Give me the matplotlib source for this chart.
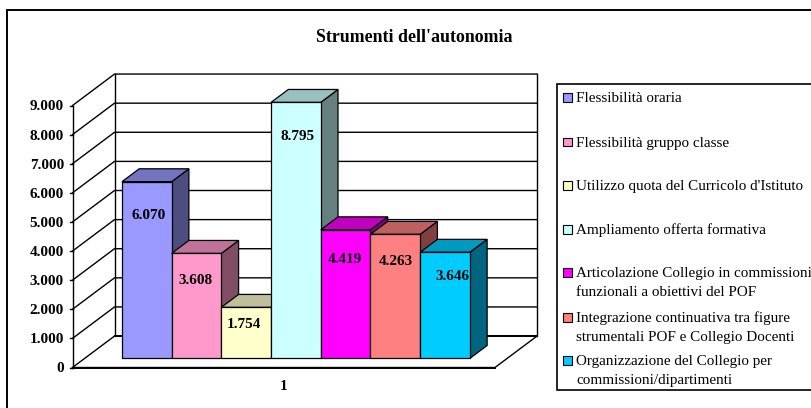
import matplotlib
matplotlib.use("Agg")
import matplotlib.pyplot as plt
from matplotlib.patches import Polygon, Rectangle

plt.rcParams['font.family'] = ['Liberation Serif', 'DejaVu Sans']

W, H = 811, 408

# dati
title = "Strumenti dell'autonomia"
category = "1"
series_names = ["Flessibilità oraria",
                "Flessibilità gruppo classe",
                "Utilizzo quota del Curricolo d'Istituto",
                "Ampliamento offerta formativa",
                "Articolazione Collegio in commissioni\nfunzionali a obiettivi del POF",
                "Integrazione continuativa tra figure\nstrumentali POF e Collegio Docenti",
                "Organizzazione del Collegio per\ncommissioni/dipartimenti"]
values = [6070, 3608, 1754, 8795, 4419, 4263, 3646]
value_labels = ["6.070", "3.608", "1.754", "8.795", "4.419", "4.263", "3.646"]
yticks = [0, 1000, 2000, 3000, 4000, 5000, 6000, 7000, 8000, 9000]
ytick_labels = ["0", "1.000", "2.000", "3.000", "4.000", "5.000", "6.000", "7.000", "8.000", "9.000"]

front_colors = ["#9999FF", "#FF99CC", "#FFFFCC", "#CCFFFF", "#FF00FF", "#FF8080", "#00CCFF"]
top_colors = ["#7373BF", "#BF7399", "#BFBF99", "#99BFBF", "#BF00BF", "#BF6060", "#0099BF"]
side_colors = ["#4D4D80", "#804D66", "#808066", "#668080", "#800080", "#804040", "#006680"]

# spostamento delle etichette rispetto al centro alto della barra, in pixel
label_dx = [2, -1, -2, 2, -1, 0, 7]
label_dy = [-34, -27, -17, -34, -30, -27, -24]

# offset obliquo della profondita, in unita di dati
DX = 0.845
DY = 1080
Z0, Z1 = 0.29, 0.70


def proj(x, v, z):
    return x + z * DX, v + z * DY


fig = plt.figure(figsize=(W / 100, H / 100), dpi=100)

# cornice esterna (esce dall'immagine a destra e in basso)
bg = fig.add_axes([0, 0, 1, 1])
bg.set_xlim(0, W)
bg.set_ylim(H, 0)
bg.axis("off")
bg.add_patch(Rectangle((7, 10), 820, 420, fc="white", ec="black", lw=1.4))
bg.text(414, 37.5, title, fontsize=12.9, fontweight="bold", ha="center", va="center")

# assi sul piano frontale
ax = fig.add_axes([72.5 / W, 1 - 367.5 / H, 422.5 / W, 262 / H])
ax.set_xlim(-4.25, 4.25)
ax.set_ylim(0, 9000)
ax.axis("off")

# pareti e griglia
x0, x1 = -4.25, 4.25
for v, lab in zip(yticks, ytick_labels):
    gx, gy = zip(proj(x0, v, 0), proj(x0, v, 1), proj(x1, v, 1))
    ax.plot(gx, gy, color="black", lw=1.0, clip_on=False, zorder=1)
    ax.plot([x0 - 0.06, x0], [v, v], color="black", lw=1.0, clip_on=False, zorder=1)
    ax.annotate(lab, xy=(x0, v), xytext=(-8.5, -1.5), textcoords="offset pixels", fontsize=11,
                fontweight="bold", ha="right", va="center", annotation_clip=False)
ax.plot([x0, x0], [0, 9000], color="black", lw=1.0, clip_on=False, zorder=1)
bx, by = proj(x0, 0, 1)
ax.plot([bx, bx], [by, proj(x0, 9000, 1)[1]], color="black", lw=1.0, clip_on=False, zorder=1)
bx, by = proj(x1, 0, 1)
ax.plot([bx, bx], [by, proj(x1, 9000, 1)[1]], color="black", lw=1.0, clip_on=False, zorder=1)
ax.plot(*zip(proj(x0, 0, 0), proj(x1, 0, 0), proj(x1, 0, 1)), color="black", lw=1.0,
        clip_on=False, zorder=1)
ax.plot([x0, x1], [0, 0], color="black", lw=1.4, clip_on=False, zorder=1)
ax.plot(*zip(proj(x0, 0, 1), proj(x1, 0, 1)), color="black", lw=1.4, clip_on=False, zorder=1)
ax.text(0, -660, category, fontsize=11, fontweight="bold", ha="center", va="center")

# barre, da sinistra a destra: ogni barra copre il lato della precedente
n = len(values)
for i in range(n):
    left = -n / 2 + i
    right = left + 1
    v = values[i]
    z = 3 + i * 0.1
    face = [proj(left, 0, Z0), proj(right, 0, Z0), proj(right, v, Z0), proj(left, v, Z0)]
    top = [proj(left, v, Z0), proj(right, v, Z0), proj(right, v, Z1), proj(left, v, Z1)]
    side = [proj(right, 0, Z0), proj(right, 0, Z1), proj(right, v, Z1), proj(right, v, Z0)]
    ax.add_patch(Polygon(side, fc=side_colors[i], ec="black", lw=0.9, zorder=z, clip_on=False))
    ax.add_patch(Polygon(top, fc=top_colors[i], ec="black", lw=0.9, zorder=z, clip_on=False))
    ax.add_patch(Polygon(face, fc=front_colors[i], ec="black", lw=0.9, zorder=z, clip_on=False))
    ax.annotate(value_labels[i], xy=proj(left + 0.5, v, Z0), xytext=(label_dx[i], label_dy[i]),
                textcoords="offset pixels", fontsize=11, fontweight="bold", ha="center",
                va="center", zorder=10, annotation_clip=False)

# legenda
bg.add_patch(Rectangle((556.5, 83.5), 280, 306.5, fc="white", ec="black", lw=1.2))
legend_y = [97, 141.5, 185, 229, 272, 317, 360]
for i, name in enumerate(series_names):
    bg.add_patch(Rectangle((563, legend_y[i] - 4), 8.5, 8.5, fc=front_colors[i], ec="black", lw=0.8))
    for j, line in enumerate(name.split("\n")):
        bg.text(576, legend_y[i] + 1.5 + j * 19, line, fontsize=10.9, ha="left", va="center")

fig.savefig("out.png", dpi=100)
